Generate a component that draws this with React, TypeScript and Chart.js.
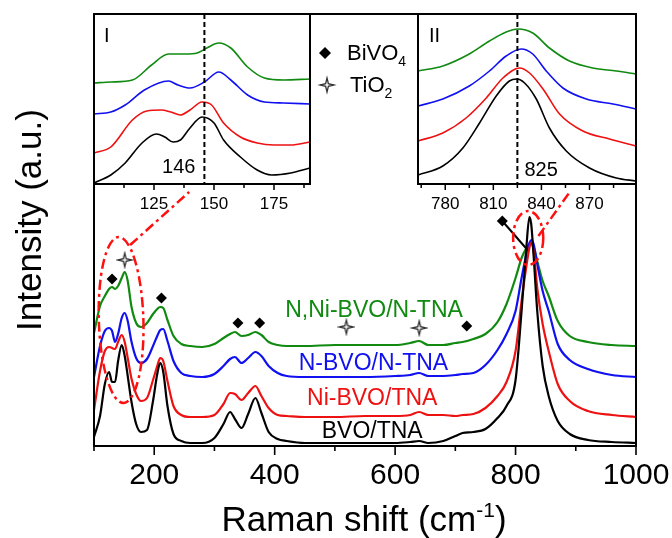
import { useEffect, useRef } from 'react';
import { Chart, registerables } from 'chart.js';
Chart.register(...registerables);

const FONT = '"Liberation Sans", Arial, Helvetica, sans-serif';
const W = 672;
const H = 538;

// ---------- main spectra (Raman shift, cm-1) ----------
const shift = [100, 110, 118, 125, 130, 135, 140, 146, 151, 156, 162, 170, 178, 188, 198, 205, 210, 215, 222, 232, 245, 260, 280, 300, 315, 326, 334, 345, 356, 368, 378, 390, 405, 420, 450, 500, 550, 600, 625, 640, 655, 680, 700, 712, 730, 750, 770, 785, 800, 810, 818, 823, 826, 830, 836, 845, 855, 870, 890, 920, 960, 1000];
const bvoTna = [9, 30, 62, 74, 64, 64, 85, 101, 90, 70, 45, 22, 14, 16, 45, 72, 83, 74, 40, 12, 5, 3, 3, 8, 22, 34, 27, 18, 32, 48, 33, 14, 7, 5, 3, 3, 3, 3, 4, 5, 3, 5, 10, 13, 14, 17, 28, 40, 66, 135, 199, 229, 222, 190, 135, 80, 50, 25, 12, 6, 4, 3];
const niBvoTna = [36, 75, 95, 99, 98, 97, 104, 111, 104, 88, 68, 52, 45, 48, 66, 80, 88, 85, 65, 40, 31, 29, 29, 31, 42, 53, 52, 46, 53, 60, 50, 38, 31, 30, 29, 29, 30, 30, 31, 34, 31, 31, 30, 31, 32, 38, 50, 64, 95, 145, 180, 198, 203, 195, 158, 122, 95, 62, 45, 35, 31, 29];
const nBvoNTna = [69, 100, 115, 118, 115, 104, 112, 128, 133, 125, 105, 88, 83, 87, 100, 110, 116, 117, 105, 85, 73, 70, 69, 72, 80, 87, 89, 83, 88, 94, 90, 80, 73, 70, 69, 69, 69, 70, 71, 73, 70, 70, 71, 72, 73, 81, 96, 112, 135, 168, 192, 203, 206, 202, 182, 155, 135, 102, 86, 77, 71, 69];
const nNiBvoNTna = [113, 140, 150, 157, 159, 157, 160, 168, 174, 165, 140, 123, 119, 123, 132, 137, 139, 138, 126, 110, 102, 100, 99, 102, 108, 112, 114, 110, 111, 114, 111, 104, 101, 100, 100, 101, 101, 101, 103, 105, 101, 101, 103, 104, 107, 112, 124, 142, 168, 188, 198, 202, 203, 199, 185, 165, 150, 125, 110, 104, 101, 100];

const seriesNames = ['BVO/TNA', 'Ni-BVO/TNA', 'N-BVO/N-TNA', 'N,Ni-BVO/N-TNA'];
const seriesColors = ['#000000', '#ee1111', '#1010f0', '#108a10'];
const labelX = [562, 562, 564, 565];
const labelY = [8, 41, 76, 129];

// peak assignment markers
const bivo4MarkX = [130, 212, 339, 375, 719, 778];
const bivo4MarkY = [167, 148, 123, 123, 120, 225];
const tio2MarkX = [151, 519, 640];
const tio2MarkY = [186, 119, 118];
const pointerX = [778, 820];
const pointerY = [225, 196];

const mainMajorTicks = [200, 400, 600, 800, 1000];
const mainMinorTicks = [100, 300, 500, 700, 900];

// ---------- inset I ----------
const in1BlackX = [100, 107, 113, 120, 126, 129.5, 133, 136, 140, 145, 150, 154, 161, 168, 174, 182, 190];
const in1BlackY = [1, 9, 21, 41, 50, 47, 42, 44, 56, 67, 61, 44, 27, 14, 9, 11, 16];
const in1RedX = [100, 107, 116, 122, 128, 132, 136, 140, 145, 149, 154, 161, 168, 175, 182, 190];
const in1RedY = [31, 37, 64, 73, 74, 72, 69, 74, 82, 79, 61, 47, 41, 39, 39, 42];
const in1BlueX = [100, 107, 113, 121, 131, 135, 140, 146, 152, 157, 164, 171, 179, 190];
const in1BlueY = [70, 72, 79, 94, 103, 99, 96, 102, 112, 104, 89, 82, 81, 80];
const in1GreenX = [100, 107, 116, 124, 131, 138, 143, 147, 152, 157, 164, 171, 179, 190];
const in1GreenY = [101, 102, 104, 119, 130, 130, 131, 136, 141, 136, 117, 106, 104, 105];
const in1Major = [125, 150, 175];
const in1Minor = [112.5, 137.5, 162.5, 187.5];

// ---------- inset II ----------
const in2BlackX = [763, 778.5, 791, 801.4, 811.8, 820, 824.7, 829.5, 836.8, 845, 855.5, 870, 886.7, 899];
const in2BlackY = [9, 18, 36, 61, 88, 103, 105, 101, 85, 56, 33, 16, 6, 3];
const in2RedX = [763, 778.5, 793, 805.6, 816, 826.4, 832.6, 841, 851.3, 865.8, 882.5, 899];
const in2RedY = [43, 51, 66, 86, 106, 116, 111, 95, 70, 53, 45, 38];
const in2BlueX = [763, 778.5, 795, 807.6, 818, 827.4, 834.6, 843, 853.4, 868, 884.6, 899];
const in2BlueY = [78, 85, 98, 113, 128, 135, 130, 113, 96, 85, 80, 75];
const in2GreenX = [763, 778.5, 795, 807.6, 818, 825.3, 834.6, 845, 857.5, 872, 886.7, 899];
const in2GreenY = [113, 118, 130, 143, 152, 155, 151, 136, 123, 116, 113, 110];
const in2Major = [780, 810, 840, 870];
const in2Minor = [765, 795, 825, 855, 885];

const pts = (xs: number[], ys: number[]) => xs.map((x, i) => ({ x, y: ys[i] }));

function drawStar(g: CanvasRenderingContext2D, x: number, y: number, R: number) {
  const r = R * 0.28;
  g.beginPath();
  for (let k = 0; k < 8; k++) {
    const ang = -Math.PI / 2 + (k * Math.PI) / 4;
    const rad = k % 2 === 0 ? R : r;
    const px = x + Math.cos(ang) * rad;
    const py = y + Math.sin(ang) * rad;
    if (k === 0) g.moveTo(px, py);
    else g.lineTo(px, py);
  }
  g.closePath();
  g.fillStyle = '#f4f4f4';
  g.fill();
  g.lineWidth = 1.3;
  g.strokeStyle = '#333';
  g.stroke();
}

function makeStar(R: number): HTMLCanvasElement {
  const size = Math.ceil(R * 2 + 4);
  const c = document.createElement('canvas');
  c.width = size;
  c.height = size;
  drawStar(c.getContext('2d')!, size / 2, size / 2, R);
  return c;
}

function drawDiamond(g: CanvasRenderingContext2D, x: number, y: number, r: number) {
  g.beginPath();
  g.moveTo(x, y - r);
  g.lineTo(x + r, y);
  g.lineTo(x, y + r);
  g.lineTo(x - r, y);
  g.closePath();
  g.fillStyle = '#000';
  g.fill();
}

type Part = { t: string; size: number; dy: number };
function drawRich(g: CanvasRenderingContext2D, parts: Part[], x: number, y: number, align: 'left' | 'center') {
  let total = 0;
  const widths = parts.map((p) => {
    g.font = `${p.size}px ${FONT}`;
    const w = g.measureText(p.t).width;
    total += w;
    return w;
  });
  let cx = align === 'center' ? x - total / 2 : x;
  g.textAlign = 'left';
  g.textBaseline = 'alphabetic';
  parts.forEach((p, i) => {
    g.font = `${p.size}px ${FONT}`;
    g.fillText(p.t, cx, y + p.dy);
    cx += widths[i];
  });
}

function drawTicks(g: CanvasRenderingContext2D, scale: any, bottom: number, major: number[], minor: number[], lMaj: number, lMin: number) {
  g.beginPath();
  major.forEach((v) => {
    const px = scale.getPixelForValue(v);
    g.moveTo(px, bottom);
    g.lineTo(px, bottom + lMaj);
  });
  minor.forEach((v) => {
    const px = scale.getPixelForValue(v);
    g.moveTo(px, bottom);
    g.lineTo(px, bottom + lMin);
  });
  g.stroke();
}

const mainDecor = {
  id: 'mainDecor',
  afterDraw(chart: any) {
    const { ctx: g, chartArea: a, scales } = chart;
    const x = scales.x;
    const y = scales.y;
    g.save();
    // red dash-dot zoom ellipses and connectors
    g.strokeStyle = '#ff1010';
    g.lineWidth = 2.5;
    g.setLineDash([10, 4, 3, 4]);
    const ell = (cx: number, cy: number, rx: number, ry: number, rot: number) => {
      const px = x.getPixelForValue(cx);
      const py = y.getPixelForValue(cy);
      const rpx = Math.abs(x.getPixelForValue(cx + rx) - px);
      const rpy = Math.abs(y.getPixelForValue(cy + ry) - py);
      g.beginPath();
      g.ellipse(px, py, rpx, rpy, rot, 0, Math.PI * 2);
      g.stroke();
    };
    const seg = (x1: number, y1: number, x2: number, y2: number) => {
      g.beginPath();
      g.moveTo(x.getPixelForValue(x1), y.getPixelForValue(y1));
      g.lineTo(x.getPixelForValue(x2), y.getPixelForValue(y2));
      g.stroke();
    };
    ell(145, 126, 37, 83, -0.03);
    seg(160, 201, 258, 254);
    ell(821, 208, 25, 27, 0);
    seg(838, 210, 890, 254);
    g.setLineDash([]);

    // frame
    g.strokeStyle = '#000';
    g.lineWidth = 2;
    g.strokeRect(a.left, a.top, a.right - a.left, a.bottom - a.top);
    g.lineWidth = 1.6;
    drawTicks(g, x, a.bottom, mainMajorTicks, mainMinorTicks, 9, 5);

    // series labels
    g.font = `23px ${FONT}`;
    g.textAlign = 'center';
    g.textBaseline = 'alphabetic';
    seriesNames.forEach((n, i) => {
      g.fillStyle = seriesColors[i];
      g.fillText(n, x.getPixelForValue(labelX[i]), y.getPixelForValue(labelY[i]));
    });

    // axis titles
    g.fillStyle = '#000';
    drawRich(g, [
      { t: 'Raman shift (cm', size: 35, dy: 0 },
      { t: '-1', size: 21, dy: -14 },
      { t: ')', size: 35, dy: 0 },
    ], 364, 531, 'center');
    g.save();
    g.translate(31, 220);
    g.rotate(-Math.PI / 2);
    g.font = `35px ${FONT}`;
    g.textAlign = 'center';
    g.textBaseline = 'middle';
    g.fillText('Intensity (a.u.)', 0, 0);
    g.restore();

    // legend for assignment markers
    drawDiamond(g, 325, 53, 6);
    g.fillStyle = '#000';
    drawRich(g, [{ t: 'BiVO', size: 22, dy: 0 }, { t: '4', size: 14, dy: 6 }], 347, 60, 'left');
    drawStar(g, 327, 85, 7);
    g.fillStyle = '#000';
    drawRich(g, [{ t: 'TiO', size: 22, dy: 0 }, { t: '2', size: 14, dy: 6 }], 350, 92, 'left');
    g.restore();
  },
};

function insetDecor(opts: { dashAt: number; roman: string; romanDx: number; numDx: number; numDy: number; numAlign: CanvasTextAlign; major: number[]; minor: number[] }) {
  return {
    id: 'insetDecor',
    beforeDraw(chart: any) {
      const { ctx: g, chartArea: a } = chart;
      g.save();
      g.fillStyle = '#fff';
      g.fillRect(a.left, a.top, a.right - a.left, a.bottom - a.top);
      g.restore();
    },
    afterDraw(chart: any) {
      const { ctx: g, chartArea: a, scales } = chart;
      const x = scales.x;
      g.save();
      const dx = x.getPixelForValue(opts.dashAt);
      g.strokeStyle = '#000';
      g.lineWidth = 2;
      g.setLineDash([5, 3]);
      g.beginPath();
      g.moveTo(dx, a.top);
      g.lineTo(dx, a.bottom);
      g.stroke();
      g.setLineDash([]);
      g.lineWidth = 2;
      g.strokeRect(a.left, a.top, a.right - a.left, a.bottom - a.top);
      g.lineWidth = 1.5;
      drawTicks(g, x, a.bottom, opts.major, opts.minor, 6, 4);
      g.fillStyle = '#000';
      g.font = `20px ${FONT}`;
      g.textBaseline = 'alphabetic';
      g.textAlign = 'left';
      g.fillText(opts.roman, a.left + opts.romanDx, a.top + 28);
      g.textAlign = opts.numAlign;
      g.fillText(String(opts.dashAt), dx + opts.numDx, a.bottom - opts.numDy);
      g.restore();
    },
  };
}

function lineDs(data: any[], color: string, width: number) {
  return {
    data,
    borderColor: color,
    backgroundColor: color,
    borderWidth: width,
    pointRadius: 0,
    fill: false,
    cubicInterpolationMode: 'monotone',
  };
}

const fixX = (height: number) => (s: any) => {
  s.height = height;
  s.paddingLeft = 0;
  s.paddingRight = 0;
};

function insetConfig(series: any[][], min: number, max: number, padL: number, padR: number, major: number[], decor: any) {
  return {
    type: 'line',
    data: {
      datasets: [
        lineDs(series[0], seriesColors[0], 1.6),
        lineDs(series[1], seriesColors[1], 1.6),
        lineDs(series[2], seriesColors[2], 1.6),
        lineDs(series[3], seriesColors[3], 1.6),
      ],
    },
    options: {
      responsive: false,
      animation: false,
      events: [],
      layout: { padding: { left: padL, right: padR, top: 14, bottom: H - 184 - 30 } },
      plugins: { legend: { display: false }, tooltip: { enabled: false } },
      scales: {
        x: {
          type: 'linear',
          min,
          max,
          afterBuildTicks: (s: any) => {
            s.ticks = major.map((v) => ({ value: v }));
          },
          afterFit: fixX(30),
          grid: { display: false, drawTicks: false },
          border: { display: false },
          ticks: { padding: 10, color: '#000', autoSkip: false, maxRotation: 0, font: { family: FONT, size: 17 }, callback: (v: any) => String(v) },
        },
        y: { display: false, min: 0, max: 170 },
      },
    },
    plugins: [decor],
  };
}

export default function App() {
  const mainRef = useRef<HTMLCanvasElement>(null);
  const in1Ref = useRef<HTMLCanvasElement>(null);
  const in2Ref = useRef<HTMLCanvasElement>(null);

  useEffect(() => {
    const star = makeStar(7);
    const main = new Chart(mainRef.current!, {
      type: 'line',
      data: {
        datasets: [
          {
            data: pts(bivo4MarkX, bivo4MarkY),
            showLine: false,
            pointStyle: 'rectRot',
            pointRadius: 5.5,
            pointBackgroundColor: '#000',
            pointBorderColor: '#000',
            pointBorderWidth: 0,
          },
          {
            data: pts(tio2MarkX, tio2MarkY),
            showLine: false,
            pointStyle: star,
            pointRadius: 7,
          },
          { data: pts(pointerX, pointerY), borderColor: '#000', borderWidth: 2, pointRadius: 0 },
          lineDs(pts(shift, bvoTna), seriesColors[0], 2.2),
          lineDs(pts(shift, niBvoTna), seriesColors[1], 2.2),
          lineDs(pts(shift, nBvoNTna), seriesColors[2], 2.2),
          lineDs(pts(shift, nNiBvoNTna), seriesColors[3], 2.2),
        ] as any,
      },
      options: {
        responsive: false,
        animation: false,
        events: [],
        layout: { padding: { left: 94, right: 36, top: 14, bottom: 32 } },
        plugins: { legend: { display: false }, tooltip: { enabled: false } },
        scales: {
          x: {
            type: 'linear',
            min: 100,
            max: 1000,
            afterBuildTicks: (s: any) => {
              s.ticks = mainMajorTicks.map((v) => ({ value: v }));
            },
            afterFit: fixX(60),
            grid: { display: false, drawTicks: false },
            border: { display: false },
            ticks: { padding: 12, color: '#000', autoSkip: false, maxRotation: 0, font: { family: FONT, size: 30 }, callback: (v: any) => String(v) },
          },
          y: { display: false, min: 0, max: 432 },
        },
      } as any,
      plugins: [mainDecor],
    } as any);

    const in1 = new Chart(
      in1Ref.current!,
      insetConfig(
        [pts(in1BlackX, in1BlackY), pts(in1RedX, in1RedY), pts(in1BlueX, in1BlueY), pts(in1GreenX, in1GreenY)],
        100, 190, 94, W - 310, in1Major,
        insetDecor({ dashAt: 146, roman: 'I', romanDx: 10, numDx: -9, numDy: 11, numAlign: 'right', major: in1Major, minor: in1Minor }),
      ) as any,
    );
    const in2 = new Chart(
      in2Ref.current!,
      insetConfig(
        [pts(in2BlackX, in2BlackY), pts(in2RedX, in2RedY), pts(in2BlueX, in2BlueY), pts(in2GreenX, in2GreenY)],
        763, 899, 418, 36, in2Major,
        insetDecor({ dashAt: 825, roman: 'II', romanDx: 11, numDx: 7, numDy: 8, numAlign: 'left', major: in2Major, minor: in2Minor }),
      ) as any,
    );
    return () => {
      main.destroy();
      in1.destroy();
      in2.destroy();
    };
  }, []);

  const cs: any = { position: 'absolute', left: 0, top: 0, width: W, height: H, display: 'block' };
  return (
    <div style={{ position: 'fixed', left: 0, top: 0, width: W, height: H, background: '#fff', overflow: 'hidden' }}>
      <canvas ref={mainRef} width={W} height={H} style={cs} />
      <canvas ref={in1Ref} width={W} height={H} style={cs} />
      <canvas ref={in2Ref} width={W} height={H} style={cs} />
    </div>
  );
}
